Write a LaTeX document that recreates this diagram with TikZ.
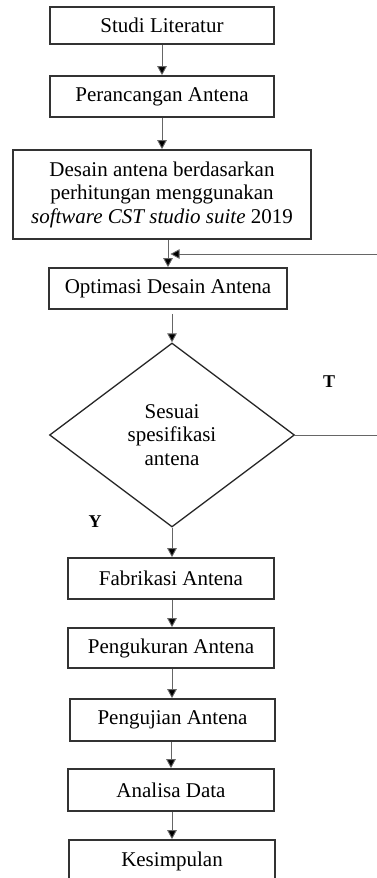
\documentclass[tikz,border=0pt]{standalone}
\usepackage{fontspec}
\setmainfont{Liberation Serif}
\usetikzlibrary{arrows.meta,shapes.geometric}
\begin{document}
\begin{tikzpicture}[x=1pt,y=-1pt,
  box/.style={draw=black!80, line width=1.7pt, rectangle, inner sep=0pt, align=center,
    font=\fontsize{21}{23.5}\selectfont},
  dia/.style={draw=black!85, line width=1.3pt, diamond, inner sep=0pt, align=center,
    minimum width=245pt, minimum height=184pt, font=\fontsize{21}{23.5}\selectfont},
  conn/.style={draw=black!60, line width=0.9pt, -{Triangle[width=9.5pt,length=9pt,fill=black]}},
  lbl/.style={font=\fontsize{18}{20}\selectfont\bfseries}]
\useasboundingbox (0,0) rectangle (377,878);
\clip (0,0) rectangle (377,878);
\node[box, minimum width=224pt, minimum height=37pt] (b1) at (162,25.5) {Studi Literatur};
\node[box, minimum width=224pt, minimum height=41pt] (b2) at (162,96.5) {Perancangan Antena};
\node[box, minimum width=298pt, minimum height=89pt] (b3) at (162,194.5)
  {Desain antena berdasarkan\\perhitungan menggunakan\\\textit{software CST studio suite} 2019};
\node[box, minimum width=238pt, minimum height=41pt] (b4) at (168,288.5) {Optimasi Desain Antena};
\node[dia] (d) at (172,435) {Sesuai\\spesifikasi\\antena};
\node[box, minimum width=206pt, minimum height=41pt] (b5) at (171,578.5) {Fabrikasi Antena};
\node[box, minimum width=206pt, minimum height=40pt] (b6) at (171,648) {Pengukuran Antena};
\node[box, minimum width=205pt, minimum height=42pt] (b7) at (172.5,720) {Pengujian Antena};
\node[box, minimum width=206pt, minimum height=42pt] (b8) at (171,790) {Analisa Data};
\node[box, minimum width=206pt, minimum height=42pt] (b9) at (172,861) {Kesimpulan};
\node[lbl] (t) at (329,382) {T};
\node[lbl] (y) at (95,522) {Y};
\coordinate (ra) at (380,435);
\coordinate (rb) at (380,254);
\coordinate (fb) at (170.5,254);
\draw[conn] (b1.south) -- (b2.north);
\draw[conn] (b2.south) -- (b3.north);
\draw[conn] (b3.south -| b4.north) -- (b4.north);
\draw[conn, shorten <=4pt] (b4.south -| d.north) -- (d.north);
\draw[conn] (d.south) -- (b5.north -| d.south);
\draw[conn] (b5.south -| d.south) -- (b6.north -| d.south);
\draw[conn] (b6.south -| d.south) -- (b7.north -| d.south);
\draw[conn] (b7.south -| b8.north) -- (b8.north);
\draw[conn] (b8.south -| b9.north) -- (b9.north);
\draw[conn] (d.east) -- (ra) -- (rb) -- (fb);
\end{tikzpicture}
\end{document}
